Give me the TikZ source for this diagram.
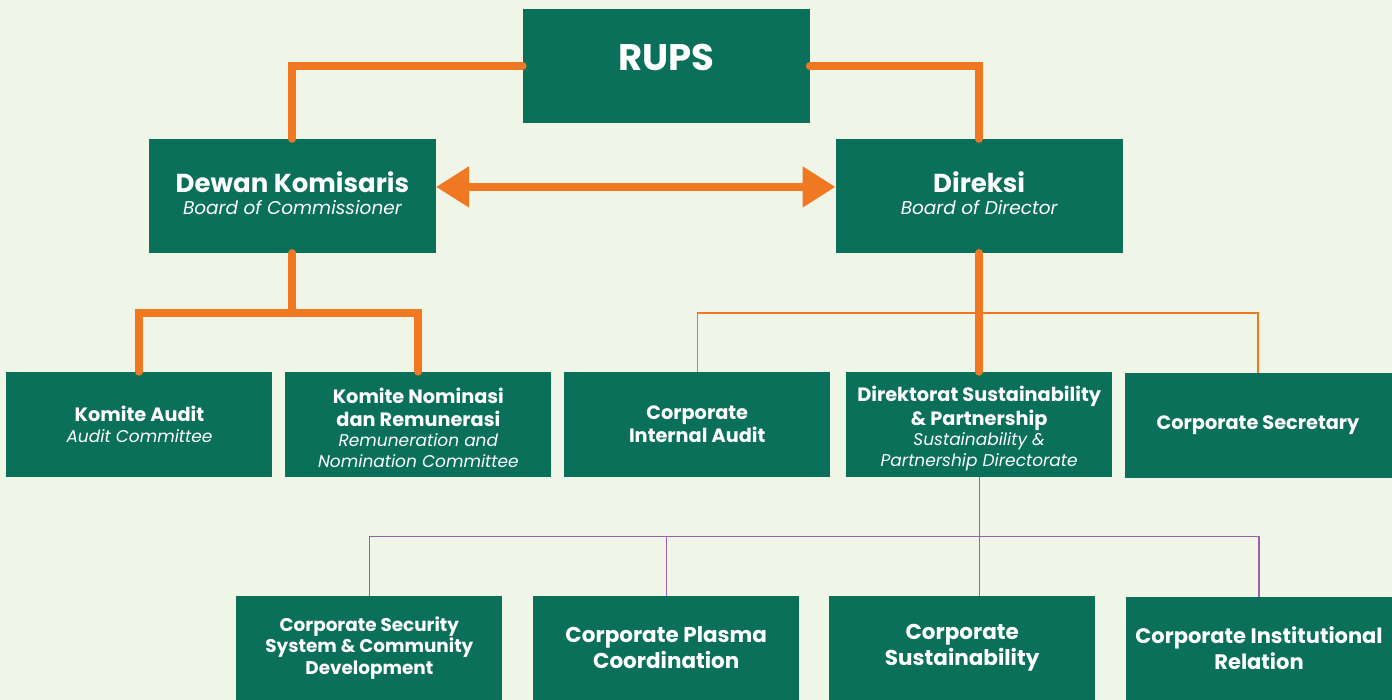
\documentclass[tikz,border=0pt]{standalone}
\usepackage{fontspec}
\setmainfont{Poppins}
\usetikzlibrary{arrows.meta}
\definecolor{bgcol}{RGB}{239,245,231}
\definecolor{boxcol}{RGB}{10,112,90}
\definecolor{orangecol}{RGB}{240,120,34}
\definecolor{purplecol}{RGB}{155,95,175}
\newcommand{\headfont}[2]{\fontsize{#1}{#2}\selectfont\bfseries}
\newcommand{\subfont}[1]{\fontsize{#1}{#1}\selectfont\mdseries\itshape}
\begin{document}
\begin{tikzpicture}[
    x=1pt, y=-1pt,
    box/.style={rectangle, fill=boxcol, text=white, inner sep=0pt, align=center},
    bigbox/.style={box, minimum width=287pt, minimum height=114pt},
    smallbox/.style={box, minimum width=266pt, minimum height=105pt},
    unitbox/.style={box, minimum width=266pt, minimum height=104pt},
    boldtext/.style={font=\headfont{19.3}{22.5}},
    mainline/.style={orangecol, line width=8pt, line cap=round},
    thinline/.style={orangecol, line width=1.3pt},
    subline/.style={purplecol, line width=1.3pt}
]

% Background
\fill[bgcol] (0,0) rectangle (1392,700);

% Top level
\node[bigbox] (rups) at (666.5,66) {\raisebox{17pt}{\headfont{37}{40}RUPS}};
\node[bigbox, font=\headfont{26}{22}] (dewan) at (292.5,196) {Dewan Komisaris\\\subfont{18.5}Board of Commissioner\rule[-6pt]{0pt}{0pt}};
\node[bigbox, font=\headfont{26}{22}] (direksi) at (979.5,196) {Direksi\\\subfont{18.5}Board of Director\rule[-6pt]{0pt}{0pt}};

\draw[mainline] (rups.west) -| (dewan.north);
\draw[mainline] (rups.east) -| (direksi.north);
\draw[orangecol, line width=8pt, {Triangle[length=33pt,width=39pt]}-{Triangle[length=33pt,width=39pt]}] ([yshift=9pt]dewan.east) -- ([yshift=9pt]direksi.west);

% Committees
\node[smallbox, font=\headfont{19.3}{20.5}] (audit) at (139.5,424.5) {Komite Audit\\\subfont{17}Audit Committee};
\node[smallbox, font=\headfont{19.3}{20.5}] (nominasi) at (418.5,424.5) {\rule{0pt}{22pt}Komite Nominasi\\[2.5pt]dan Remunerasi\\[-1pt]\subfont{17}Remuneration and\\[0.5pt]\subfont{17}Nomination Committee};

\coordinate (jk) at (292.5,313);
\draw[mainline] (dewan.south) -- (jk);
\draw[mainline] (audit.north) |- (jk) -| (nominasi.north);

% Directorate level
\node[smallbox, boldtext] (cia) at (697.5,424.5) {Corporate\\Internal Audit};
\node[smallbox, font=\headfont{19.3}{20.5}] (direktorat) at (979.5,424.5) {\rule{0pt}{24pt}Direktorat Sustainability\\[2.5pt]\& Partnership\\[-1pt]\subfont{17}Sustainability \&\\[0.5pt]\subfont{17}Partnership Directorate};
\node[box, boldtext, minimum width=267pt, minimum height=105pt] (csec) at (1258.5,425.5) {Corporate Secretary};

\coordinate (jd) at (979.5,313);
\draw[thinline] (cia.north) |- (jd) -| (csec.north);
\draw[mainline] (direksi.south) -- (direktorat.north);

% Units under directorate
\node[unitbox, font=\headfont{18.4}{21.5}] (security) at (369.5,648) {Corporate Security\\System \& Community\\Development};
\node[unitbox, font=\headfont{21.5}{25.5}] (plasma) at (666.5,648) {Corporate Plasma\\Coordination};
\node[unitbox, font=\headfont{21.5}{25.5}] (sust) at (962.5,648) {Corporate\\Sustainability};
\node[unitbox, minimum height=103pt, font=\headfont{21}{25.5}] (cir) at (1259.5,648.5) {Corporate Institutional\\Relation};

\coordinate (jp) at (979.5,537);
\draw[subline] (direktorat.south) -- (jp);
\draw[subline] (security.north) |- (jp) -| (cir.north);
\draw[subline] (plasma.north) -- (plasma.north |- jp);
\draw[subline] (jp) -- (jp |- sust.north);

\end{tikzpicture}
\end{document}
